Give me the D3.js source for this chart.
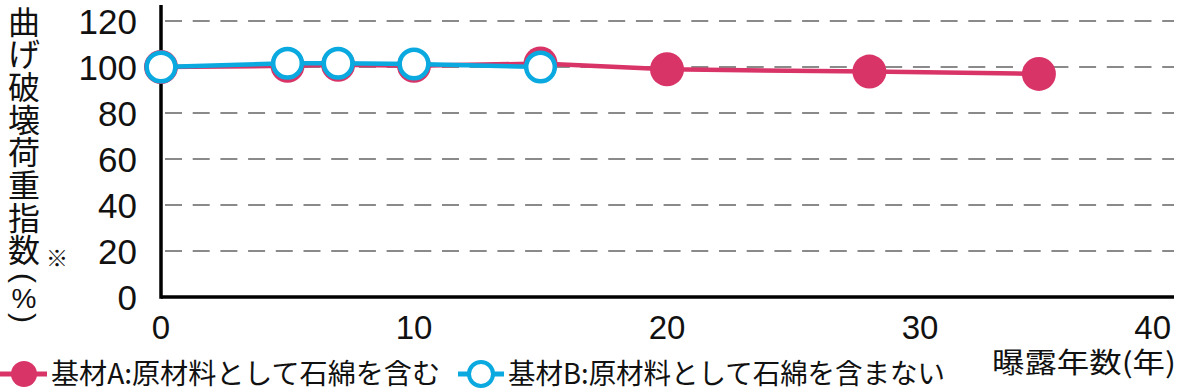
<!DOCTYPE html>
<html><head><meta charset="utf-8">
<script src="https://cdn.jsdelivr.net/npm/d3@7"></script>
<style>html,body{margin:0;padding:0;background:#fff;}svg{display:block;}</style>
</head><body>
<script>
// ---- data ----
const yearsA = [0, 5, 7, 10, 15, 20, 28, 34.7];
const valuesA = [100, 100.5, 101, 100.5, 101.5, 99, 98, 97];
const yearsB = [0, 5, 7, 10, 15];
const valuesB = [100, 101.6, 101.6, 101.3, 100];
const xTicks = [0, 10, 20, 30, 40];
const yTicks = [0, 20, 40, 60, 80, 100, 120];
const yTitleChars = ["曲", "げ", "破", "壊", "荷", "重", "指", "数"];
const seriesNames = ["基材A:原材料として石綿を含む", "基材B:原材料として石綿を含まない"];
const xTitle = "曝露年数(年)";
const colorA = "#d93468", colorB = "#0aa9df";

const W = 1178, H = 392;
const svg = d3.select("body").append("svg").attr("width", W).attr("height", H);
const x = d3.scaleLinear().domain([0, 40]).range([161, 1173]);
const y = d3.scaleLinear().domain([0, 120]).range([297, 21]);
const numFont = "'Liberation Sans', Arial, sans-serif";
const jpFont = "'Noto Sans CJK JP', sans-serif";

// grid
svg.append("g").selectAll("line").data(yTicks.filter(d => d > 0)).join("line")
  .attr("x1", x(0) + 2).attr("x2", 1174).attr("y1", d => y(d)).attr("y2", d => y(d))
  .attr("stroke", "#8a8a8a").attr("stroke-width", 2).attr("stroke-dasharray", "17 10.7")
  .attr("stroke-dashoffset", -2);

// axes lines
svg.append("line").attr("x1", x(0)).attr("x2", x(0)).attr("y1", 5).attr("y2", y(0) + 1.75)
  .attr("stroke", "#000").attr("stroke-width", 3.5);
svg.append("line").attr("x1", x(0)).attr("x2", 1174).attr("y1", y(0)).attr("y2", y(0))
  .attr("stroke", "#000").attr("stroke-width", 3.5);

// y tick labels
svg.append("g").selectAll("text").data(yTicks).join("text")
  .attr("x", 137).attr("y", d => y(d)).attr("dy", "0.36em")
  .attr("text-anchor", "end").attr("font-family", numFont).attr("font-size", 35)
  .attr("fill", "#111").text(d => d);

// x tick labels
svg.append("g").selectAll("text").data(xTicks).join("text")
  .attr("x", d => d === 40 ? 1171 : x(d)).attr("y", 327).attr("dy", "0.36em")
  .attr("text-anchor", d => d === 40 ? "end" : "middle")
  .attr("font-family", numFont).attr("font-size", 33).attr("fill", "#111").text(d => d);

// y title (vertical)
const yt = svg.append("g").attr("font-family", jpFont).attr("fill", "#111");
yt.selectAll("text.c").data(yTitleChars).join("text").attr("class", "c")
  .attr("x", 24).attr("y", (d, i) => 22 + i * 32.7).attr("dy", "0.36em")
  .attr("text-anchor", "middle").attr("font-size", 32).text(d => d);
yt.append("text").attr("x", 57).attr("y", 258).attr("dy", "0.36em").attr("text-anchor", "middle")
  .attr("font-size", 22).text("※");
yt.append("text").attr("transform", "translate(24,278) rotate(90)").attr("dy", "0.34em")
  .attr("text-anchor", "middle").attr("font-family", numFont).attr("font-size", 30).text("(");
yt.append("text").attr("x", 24).attr("y", 298).attr("dy", "0.36em").attr("text-anchor", "middle")
  .attr("font-family", numFont).attr("font-size", 28).text("%");
yt.append("text").attr("transform", "translate(24,318) rotate(90)").attr("dy", "0.34em")
  .attr("text-anchor", "middle").attr("font-family", numFont).attr("font-size", 30).text(")");

// series A
const dataA = yearsA.map((t, i) => ({t, v: valuesA[i]}));
const dataB = yearsB.map((t, i) => ({t, v: valuesB[i]}));
const line = d3.line().x(d => x(d.t)).y(d => y(d.v));
svg.append("path").datum(dataA).attr("d", line).attr("fill", "none")
  .attr("stroke", colorA).attr("stroke-width", 4.5);
svg.append("g").selectAll("circle").data(dataA).join("circle")
  .attr("cx", d => x(d.t)).attr("cy", d => y(d.v)).attr("r", 17).attr("fill", colorA);
// series B
svg.append("path").datum(dataB).attr("d", line).attr("fill", "none")
  .attr("stroke", colorB).attr("stroke-width", 4.5);
svg.append("g").selectAll("circle").data(dataB).join("circle")
  .attr("cx", d => x(d.t)).attr("cy", d => y(d.v)).attr("r", 14.3)
  .attr("fill", "#fff").attr("stroke", colorB).attr("stroke-width", 4.5);

// legend
const ly = 374;
const lg = svg.append("g");
lg.append("line").attr("x1", 0).attr("x2", 47).attr("y1", ly).attr("y2", ly)
  .attr("stroke", colorA).attr("stroke-width", 5);
lg.append("circle").attr("cx", 24).attr("cy", ly).attr("r", 13).attr("fill", colorA);
lg.append("text").attr("x", 51).attr("y", ly).attr("dy", "0.36em").attr("font-family", jpFont)
  .attr("font-size", 28).attr("fill", "#111").attr("textLength", 389).attr("lengthAdjust", "spacingAndGlyphs")
  .text(seriesNames[0]);
lg.append("line").attr("x1", 458).attr("x2", 504).attr("y1", ly).attr("y2", ly)
  .attr("stroke", colorB).attr("stroke-width", 5);
lg.append("circle").attr("cx", 481).attr("cy", ly).attr("r", 12).attr("fill", "#fff")
  .attr("stroke", colorB).attr("stroke-width", 4);
lg.append("text").attr("x", 508).attr("y", ly).attr("dy", "0.36em").attr("font-family", jpFont)
  .attr("font-size", 28).attr("fill", "#111").attr("textLength", 437).attr("lengthAdjust", "spacingAndGlyphs")
  .text(seriesNames[1]);
lg.append("text").attr("x", 992).attr("y", ly - 11).attr("dy", "0.36em").attr("font-family", jpFont)
  .attr("font-size", 28).attr("fill", "#111").attr("textLength", 184).attr("lengthAdjust", "spacingAndGlyphs")
  .text(xTitle);
</script>
</body></html>
